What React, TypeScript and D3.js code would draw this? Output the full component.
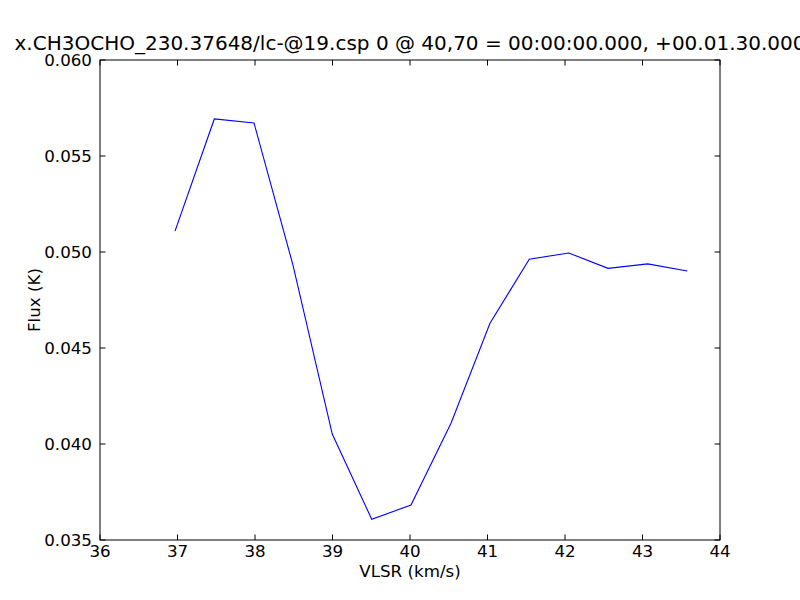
import { useEffect, useRef } from 'react';
import * as d3 from 'd3';

const titleText = 'x.CH3OCHO_230.37648/lc-@19.csp 0 @ 40,70 = 00:00:00.000, +00.01.30.000';
const xLabel = 'VLSR (km/s)';
const yLabel = 'Flux (K)';

// velocity channels (km/s)
const vlsr = [
  36.968, 37.475, 37.987, 38.49, 38.997, 39.506, 40.013, 40.529, 41.032, 41.539,
  42.048, 42.555, 43.067, 43.578,
];
const flux = [
  0.05109, 0.05693, 0.05672, 0.04932, 0.04052, 0.03608, 0.03682, 0.04108, 0.04629,
  0.04962, 0.04995, 0.04915, 0.04938, 0.04901,
];
const xTicks = [36, 37, 38, 39, 40, 41, 42, 43, 44];
const yTicks = [0.035, 0.04, 0.045, 0.05, 0.055, 0.06];

const width = 800;
const height = 600;
const margin = { top: 60, right: 80, bottom: 60, left: 100 };

export default function App() {
  const svgRef = useRef<SVGSVGElement>(null);

  useEffect(() => {
    if (!svgRef.current) return;
    const svg = d3.select(svgRef.current);
    svg.selectAll('*').remove();

    const x = d3
      .scaleLinear()
      .domain([36, 44])
      .range([margin.left, width - margin.right]);
    const y = d3
      .scaleLinear()
      .domain([0.035, 0.06])
      .range([height - margin.bottom, margin.top]);

    const font = 'DejaVu Sans, sans-serif';
    const tickLen = 5.5;
    const [x0, x1] = x.range();
    const [y0, y1] = y.range();

    svg.append('rect').attr('width', width).attr('height', height).attr('fill', '#fff');

    // data line
    const line = d3
      .line<number>()
      .x((_, i) => x(vlsr[i]))
      .y((d) => y(d));
    svg
      .append('path')
      .datum(flux)
      .attr('d', line)
      .attr('fill', 'none')
      .attr('stroke', '#0000ff')
      .attr('stroke-width', 1.1);

    // ticks on all four sides, pointing inward
    const ticks = svg.append('g').attr('stroke', '#000').attr('stroke-width', 1);
    xTicks.forEach((t) => {
      ticks.append('line').attr('x1', x(t)).attr('x2', x(t)).attr('y1', y0).attr('y2', y0 - tickLen);
      ticks.append('line').attr('x1', x(t)).attr('x2', x(t)).attr('y1', y1).attr('y2', y1 + tickLen);
    });
    yTicks.forEach((t) => {
      ticks.append('line').attr('x1', x0).attr('x2', x0 + tickLen).attr('y1', y(t)).attr('y2', y(t));
      ticks.append('line').attr('x1', x1).attr('x2', x1 - tickLen).attr('y1', y(t)).attr('y2', y(t));
    });

    // frame
    svg
      .append('rect')
      .attr('x', x0)
      .attr('y', y1)
      .attr('width', x1 - x0)
      .attr('height', y0 - y1)
      .attr('fill', 'none')
      .attr('stroke', '#000')
      .attr('stroke-width', 1);

    // tick labels
    svg
      .selectAll('text.xt')
      .data(xTicks)
      .join('text')
      .attr('x', (d) => x(d))
      .attr('y', y0 + 17)
      .attr('text-anchor', 'middle')
      .style('font-family', font)
      .style('font-size', '16.7px')
      .text((d) => d3.format('d')(d));

    svg
      .selectAll('text.yt')
      .data(yTicks)
      .join('text')
      .attr('x', x0 - 8)
      .attr('y', (d) => y(d) + 6)
      .attr('text-anchor', 'end')
      .style('font-family', font)
      .style('font-size', '16.7px')
      .text((d) => d3.format('.3f')(d));

    // axis labels
    svg
      .append('text')
      .attr('x', (x0 + x1) / 2)
      .attr('y', 577)
      .attr('text-anchor', 'middle')
      .style('font-family', font)
      .style('font-size', '16.7px')
      .text(xLabel);

    svg
      .append('text')
      .attr('transform', `translate(40, ${(y0 + y1) / 2}) rotate(-90)`)
      .attr('text-anchor', 'middle')
      .style('font-family', font)
      .style('font-size', '16.7px')
      .text(yLabel);

    // title
    svg
      .append('text')
      .attr('x', (x0 + x1) / 2)
      .attr('y', 50)
      .attr('text-anchor', 'middle')
      .style('font-family', font)
      .style('font-size', '20px')
      .text(titleText);
  }, []);

  return (
    <svg
      ref={svgRef}
      width={width}
      height={height}
      style={{ position: 'absolute', left: 0, top: 0 }}
    />
  );
}
